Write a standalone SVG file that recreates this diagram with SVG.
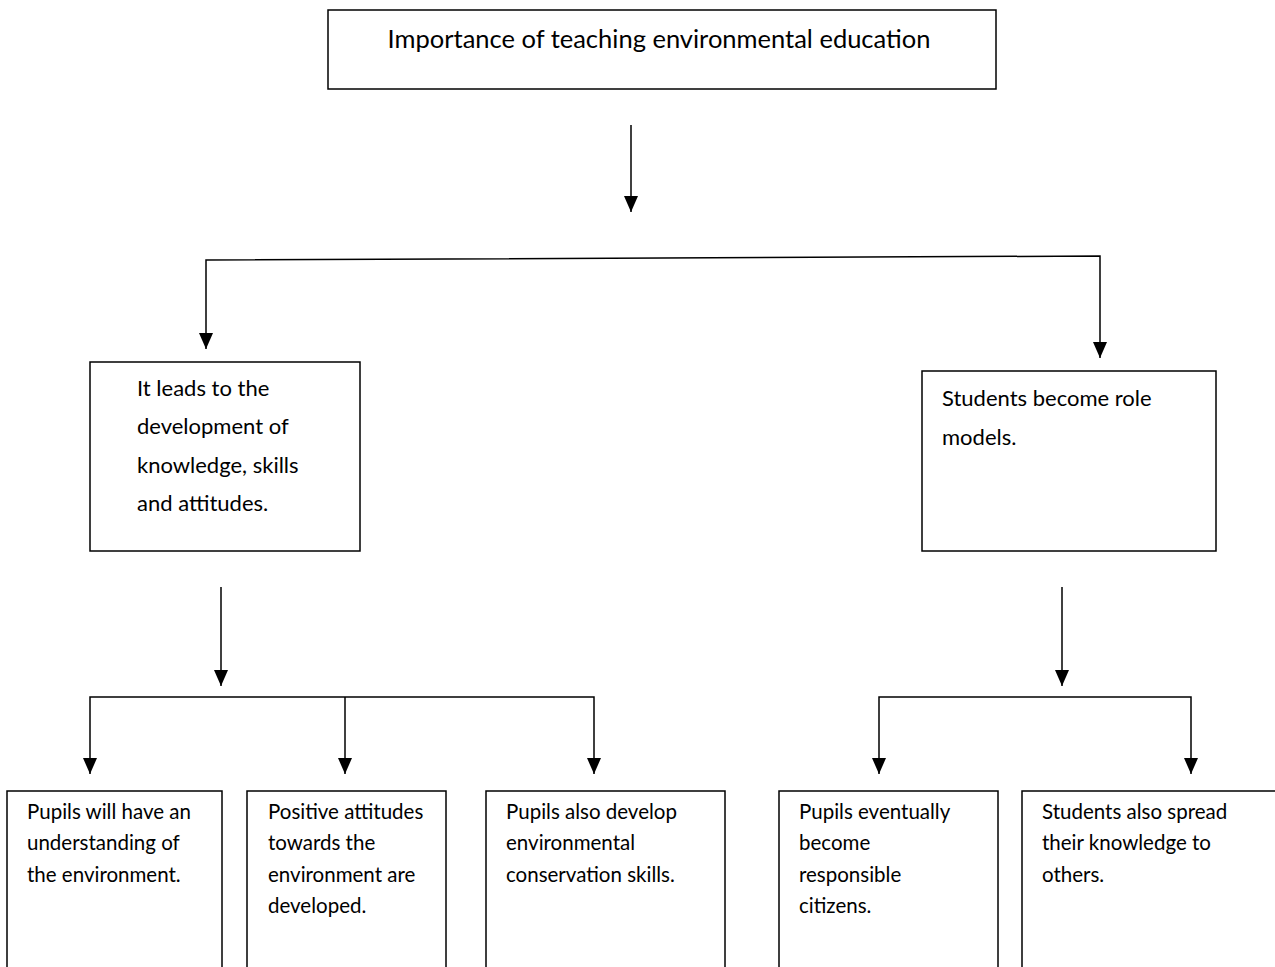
<svg xmlns="http://www.w3.org/2000/svg" width="1275" height="967" viewBox="0 0 1275 967">
<defs>
<style>
.box{fill:#fff;stroke:#000;stroke-width:1.5}
.title{font-family:Lato,"Open Sans","Liberation Sans",sans-serif;font-size:25.5px;fill:#000}
.big{font-family:Lato,"Open Sans","Liberation Sans",sans-serif;font-size:22px;fill:#000}
.small{font-family:Lato,"Open Sans","Liberation Sans",sans-serif;font-size:20.5px;fill:#000}
.con{fill:none;stroke:#000;stroke-width:1.5}
</style>
<marker id="ah" viewBox="0 0 16 14" markerWidth="16" markerHeight="14" refX="16" refY="7" orient="auto-start-reverse" markerUnits="userSpaceOnUse">
<path d="M0,0 L16,7 L0,14 Z" fill="#000"/>
</marker>
</defs>
<rect width="1275" height="967" fill="#fff"/>
<g id="connectors">
<path class="con" d="M631,125 V212" marker-end="url(#ah)"/>
<path class="con" d="M206,349 V260 L1100,256 V358" marker-start="url(#ah)" marker-end="url(#ah)"/>
<path class="con" d="M221,587 V686" marker-end="url(#ah)"/>
<path class="con" d="M90,774 V697 H594 V774" marker-start="url(#ah)" marker-end="url(#ah)"/>
<path class="con" d="M345,697 V774" marker-end="url(#ah)"/>
<path class="con" d="M1062,587 V686" marker-end="url(#ah)"/>
<path class="con" d="M879,774 V697 H1191 V774" marker-start="url(#ah)" marker-end="url(#ah)"/>
</g>
<g id="root">
<rect class="box" x="328" y="10" width="668" height="79"/>
<text class="title" x="659" y="48" text-anchor="middle">Importance of teaching environmental education</text>
</g>
<g id="knowledge">
<rect class="box" x="90" y="362" width="270" height="189"/>
<text class="big" x="137" y="396">It leads to the</text>
<text class="big" x="137" y="434">development of</text>
<text class="big" x="137" y="473">knowledge, skills</text>
<text class="big" x="137" y="511">and attitudes.</text>
</g>
<g id="rolemodels">
<rect class="box" x="922" y="371" width="294" height="180"/>
<text class="big" x="942" y="406">Students become role</text>
<text class="big" x="942" y="445">models.</text>
</g>
<g id="understanding">
<rect class="box" x="7" y="791" width="215" height="180"/>
<text class="small" x="27" y="819">Pupils will have an</text>
<text class="small" x="27" y="850">understanding of</text>
<text class="small" x="27" y="882">the environment.</text>
</g>
<g id="attitudes">
<rect class="box" x="247" y="791" width="199" height="180"/>
<text class="small" x="268" y="819">Positive attitudes</text>
<text class="small" x="268" y="850">towards the</text>
<text class="small" x="268" y="882">environment are</text>
<text class="small" x="268" y="913">developed.</text>
</g>
<g id="skills">
<rect class="box" x="486" y="791" width="239" height="180"/>
<text class="small" x="506" y="819">Pupils also develop</text>
<text class="small" x="506" y="850">environmental</text>
<text class="small" x="506" y="882">conservation skills.</text>
</g>
<g id="citizens">
<rect class="box" x="779" y="791" width="219" height="180"/>
<text class="small" x="799" y="819">Pupils eventually</text>
<text class="small" x="799" y="850">become</text>
<text class="small" x="799" y="882">responsible</text>
<text class="small" x="799" y="913">citizens.</text>
</g>
<g id="spread">
<rect class="box" x="1022" y="791" width="260" height="180"/>
<text class="small" x="1042" y="819">Students also spread</text>
<text class="small" x="1042" y="850">their knowledge to</text>
<text class="small" x="1042" y="882">others.</text>
</g>
</svg>
